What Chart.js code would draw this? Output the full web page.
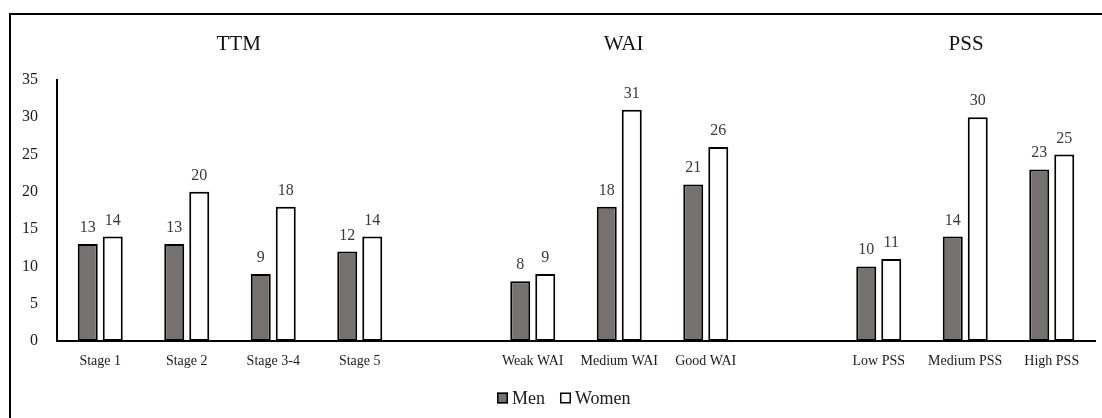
<!DOCTYPE html>
<html>
<head>
<meta charset="utf-8">
<script src="https://cdn.jsdelivr.net/npm/chart.js@4.4.0/dist/chart.umd.min.js"></script>
<style>
  html, body { margin: 0; padding: 0; background: #ffffff; }
  #wrap { position: relative; width: 1102px; height: 418px; }
</style>
</head>
<body>
<div id="wrap"><canvas id="chart" width="1102" height="418"></canvas></div>
<script>
// Categories per group; empty labels separate the TTM, WAI and PSS groups.
const categories = ['Stage 1', 'Stage 2', 'Stage 3-4', 'Stage 5', '',
                    'Weak WAI', 'Medium WAI', 'Good WAI', '',
                    'Low PSS', 'Medium PSS', 'High PSS'];
const menValues   = [13, 13, 9, 12, null, 8, 18, 21, null, 10, 14, 23];
const womenValues = [14, 20, 18, 14, null, 9, 31, 26, null, 11, 30, 25];
const seriesNames = ['Men', 'Women'];
const groupTitles = ['TTM', 'WAI', 'PSS'];
const yMin = 0, yMax = 35, yStep = 5;

const SERIF = '"Liberation Serif", "Times New Roman", serif';
const MEN_FILL = '#767171';
const WOMEN_FILL = '#ffffff';

// Thin frame along the top and left edges of the figure.
const framePlugin = {
  id: 'frame',
  beforeDraw(chart) {
    const ctx = chart.ctx;
    ctx.save();
    ctx.strokeStyle = '#000';
    ctx.lineWidth = 2;
    ctx.beginPath();
    ctx.moveTo(10, chart.height);
    ctx.lineTo(10, 14);
    ctx.lineTo(chart.width, 14);
    ctx.stroke();
    ctx.restore();
  }
};

// Group headings above each block of categories.
const groupTitlePlugin = {
  id: 'groupTitles',
  afterDraw(chart, args, opts) {
    const ctx = chart.ctx;
    const x = chart.scales.x;
    ctx.save();
    ctx.font = '21px ' + SERIF;
    ctx.fillStyle = '#111';
    ctx.textAlign = 'center';
    ctx.textBaseline = 'alphabetic';
    groupTitles.forEach((t, i) => {
      ctx.fillText(t, x.getPixelForValue(opts.anchors[i]), opts.baseline);
    });
    ctx.restore();
  }
};

// Value labels above every bar.
const valueLabelPlugin = {
  id: 'valueLabels',
  afterDatasetsDraw(chart) {
    const ctx = chart.ctx;
    ctx.save();
    ctx.font = '16px ' + SERIF;
    ctx.fillStyle = '#3a3a3a';
    ctx.textAlign = 'center';
    ctx.textBaseline = 'alphabetic';
    chart.data.datasets.forEach((ds, di) => {
      const meta = chart.getDatasetMeta(di);
      meta.data.forEach((el, i) => {
        const v = ds.data[i];
        if (v === null || v === undefined) return;
        ctx.fillText(String(v), el.x, el.y - 12);
      });
    });
    ctx.restore();
  }
};

// Legend row under the axis.
const legendRowPlugin = {
  id: 'legendRow',
  afterDraw(chart, args, opts) {
    const ctx = chart.ctx;
    ctx.save();
    ctx.font = '18px ' + SERIF;
    ctx.textBaseline = 'middle';
    ctx.textAlign = 'left';
    let x = opts.startX;
    const y = opts.centerY;
    chart.data.datasets.forEach(ds => {
      ctx.fillStyle = ds.backgroundColor;
      ctx.fillRect(x, y - 5.5, 11, 11);
      ctx.strokeStyle = '#000';
      ctx.lineWidth = 1.5;
      ctx.strokeRect(x + 0.75, y - 4.75, 9.5, 9.5);
      ctx.fillStyle = '#1a1a1a';
      ctx.fillText(ds.label, x + 15, y + 1);
      x += 15 + ctx.measureText(ds.label).width + 15;
    });
    ctx.restore();
  }
};

new Chart(document.getElementById('chart'), {
  type: 'bar',
  data: {
    labels: categories,
    datasets: [
      {
        label: seriesNames[0],
        data: menValues,
        backgroundColor: MEN_FILL,
        borderColor: '#000',
        borderWidth: 2,
        borderSkipped: false,
        categoryPercentage: 0.578,
        barPercentage: 0.8
      },
      {
        label: seriesNames[1],
        data: womenValues,
        backgroundColor: WOMEN_FILL,
        borderColor: '#000',
        borderWidth: 2,
        borderSkipped: false,
        categoryPercentage: 0.578,
        barPercentage: 0.8
      }
    ]
  },
  options: {
    responsive: false,
    animation: false,
    devicePixelRatio: 1,
    layout: { padding: { left: 0, right: 7, top: 80, bottom: 39 } },
    plugins: {
      legend: { display: false },
      tooltip: { enabled: false },
      groupTitles: { anchors: [1.6, 6.05, 10.01], baseline: 50 },
      legendRow: { startX: 497, centerY: 398 }
    },
    scales: {
      x: {
        grid: { display: false, drawTicks: false },
        border: { display: true, color: '#000', width: 2 },
        ticks: {
          autoSkip: false,
          maxRotation: 0,
          minRotation: 0,
          padding: 12,
          color: '#1a1a1a',
          font: { family: SERIF, size: 14 }
        },
        afterFit(scale) { scale.height = 38; }
      },
      y: {
        min: yMin,
        max: yMax,
        grid: { display: false, drawTicks: false },
        border: { display: true, color: '#000', width: 2 },
        ticks: {
          stepSize: yStep,
          padding: 19,
          color: '#1a1a1a',
          font: { family: SERIF, size: 16 }
        },
        afterFit(scale) { scale.width = 57; }
      }
    }
  },
  plugins: [framePlugin, groupTitlePlugin, valueLabelPlugin, legendRowPlugin]
});
</script>
</body>
</html>
